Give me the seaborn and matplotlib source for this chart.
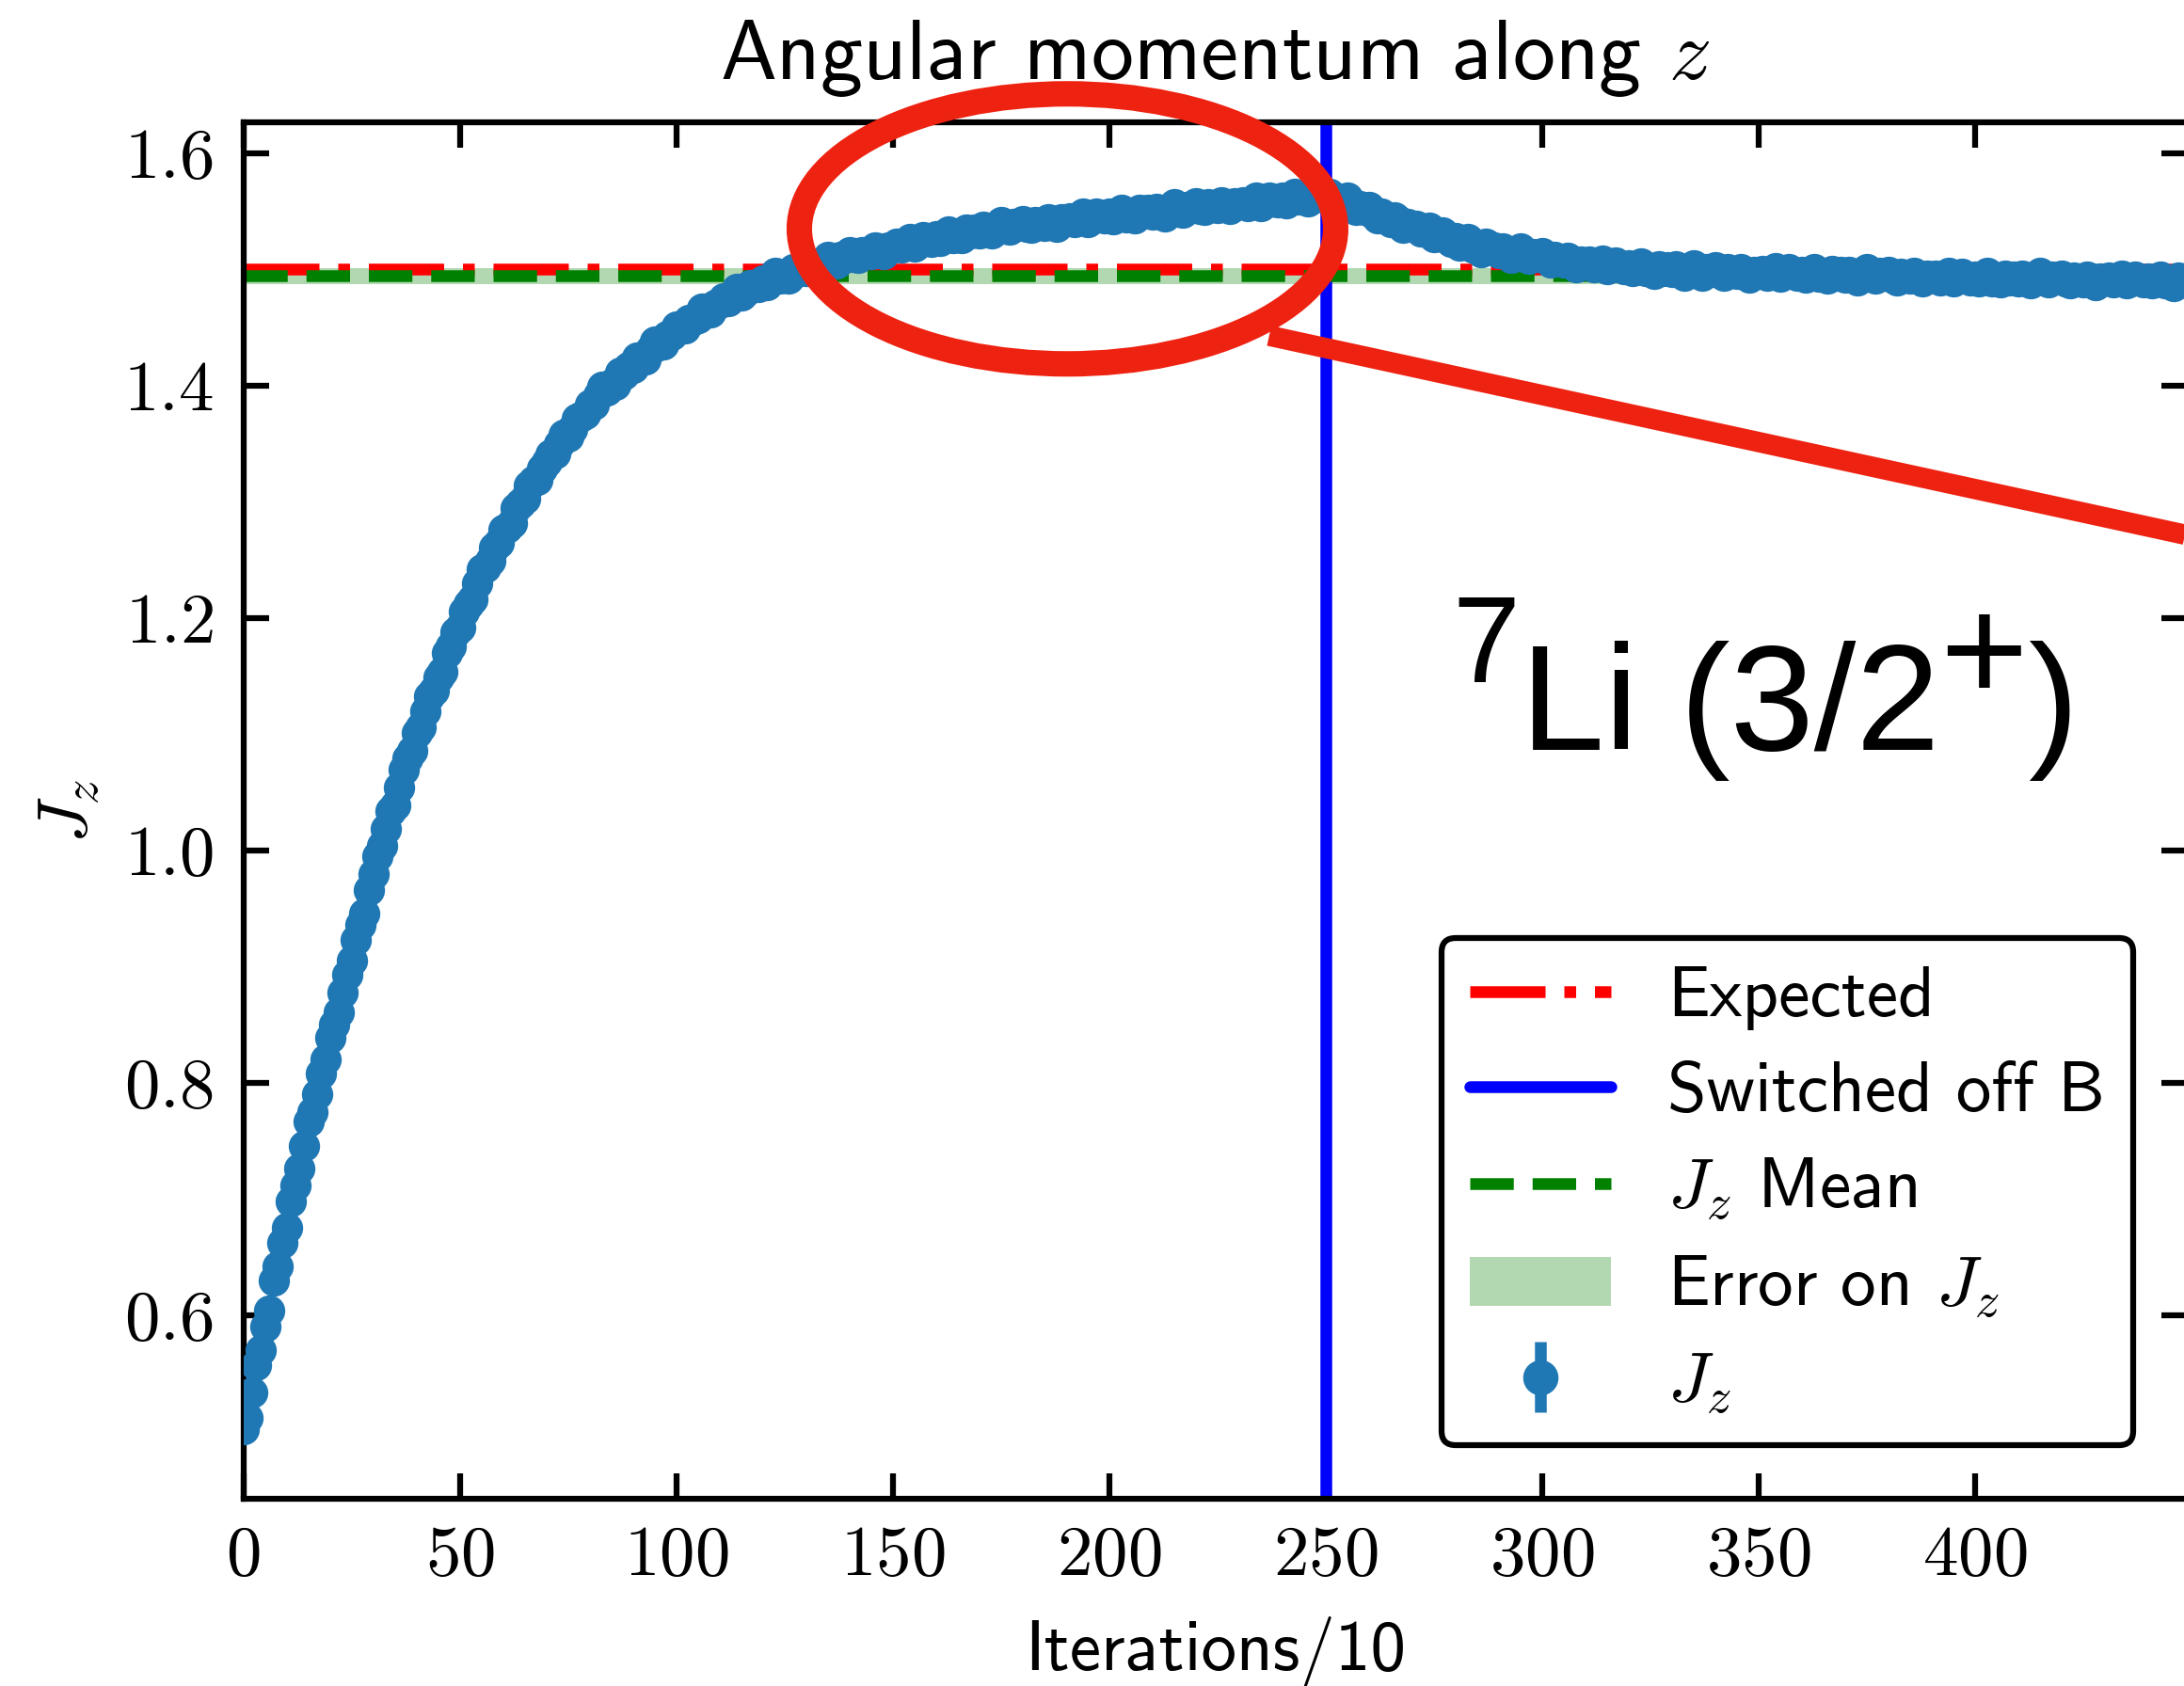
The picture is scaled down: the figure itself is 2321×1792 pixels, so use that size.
import numpy as np
import matplotlib
matplotlib.use("Agg")
import matplotlib.pyplot as plt
import seaborn as sns
from matplotlib.patches import Ellipse
from matplotlib.lines import Line2D
from matplotlib.ticker import FixedLocator, FixedFormatter
from matplotlib.transforms import offset_copy

# J_z estimate recorded every 10 iterations
jz_values = [
    0.502, 0.512, 0.534, 0.557, 0.570, 0.590, 0.604, 0.630, 0.642, 0.662,
    0.675, 0.698, 0.712, 0.726, 0.746, 0.767, 0.775, 0.790, 0.808, 0.820,
    0.839, 0.850, 0.861, 0.878, 0.893, 0.905, 0.923, 0.936, 0.946, 0.966,
    0.980, 0.995, 1.004, 1.019, 1.034, 1.039, 1.054, 1.070, 1.079, 1.086,
    1.101, 1.106, 1.120, 1.133, 1.138, 1.149, 1.154, 1.170, 1.176, 1.188,
    1.192, 1.206, 1.212, 1.216, 1.230, 1.242, 1.244, 1.249, 1.261, 1.265,
    1.276, 1.278, 1.282, 1.295, 1.299, 1.303, 1.314, 1.318, 1.319, 1.329,
    1.334, 1.341, 1.342, 1.350, 1.358, 1.356, 1.363, 1.372, 1.373, 1.376,
    1.384, 1.384, 1.392, 1.399, 1.396, 1.402, 1.401, 1.411, 1.410, 1.416,
    1.415, 1.424, 1.424, 1.423, 1.431, 1.438, 1.435, 1.436, 1.443, 1.444,
    1.451, 1.449, 1.449, 1.457, 1.457, 1.458, 1.466, 1.466, 1.463, 1.470,
    1.471, 1.475, 1.473, 1.478, 1.483, 1.478, 1.481, 1.487, 1.486, 1.485,
    1.491, 1.487, 1.492, 1.497, 1.492, 1.495, 1.492, 1.500, 1.498, 1.502,
    1.499, 1.505, 1.503, 1.500, 1.506, 1.511, 1.506, 1.505, 1.511, 1.510,
    1.515, 1.511, 1.510, 1.515, 1.514, 1.513, 1.519, 1.518, 1.513, 1.519,
    1.519, 1.522, 1.519, 1.522, 1.526, 1.520, 1.523, 1.528, 1.525, 1.524,
    1.529, 1.525, 1.529, 1.533, 1.527, 1.530, 1.527, 1.534, 1.531, 1.534,
    1.531, 1.537, 1.534, 1.531, 1.536, 1.541, 1.535, 1.534, 1.539, 1.538,
    1.542, 1.537, 1.536, 1.541, 1.540, 1.538, 1.543, 1.542, 1.537, 1.543,
    1.542, 1.544, 1.541, 1.544, 1.548, 1.541, 1.543, 1.548, 1.545, 1.544,
    1.548, 1.543, 1.548, 1.551, 1.545, 1.548, 1.544, 1.551, 1.548, 1.551,
    1.547, 1.552, 1.550, 1.546, 1.552, 1.556, 1.550, 1.549, 1.554, 1.553,
    1.557, 1.552, 1.551, 1.556, 1.554, 1.553, 1.558, 1.556, 1.552, 1.557,
    1.556, 1.558, 1.555, 1.558, 1.562, 1.555, 1.557, 1.562, 1.559, 1.558,
    1.562, 1.557, 1.562, 1.565, 1.560, 1.562, 1.559, 1.566, 1.568, 1.566,
    1.561, 1.565, 1.560, 1.555, 1.559, 1.562, 1.555, 1.551, 1.555, 1.551,
    1.554, 1.548, 1.544, 1.548, 1.545, 1.541, 1.545, 1.542, 1.536, 1.539,
    1.537, 1.538, 1.533, 1.534, 1.536, 1.528, 1.529, 1.532, 1.527, 1.524,
    1.527, 1.521, 1.524, 1.526, 1.519, 1.520, 1.515, 1.522, 1.517, 1.519,
    1.514, 1.518, 1.515, 1.510, 1.515, 1.518, 1.511, 1.509, 1.513, 1.511,
    1.514, 1.509, 1.506, 1.511, 1.508, 1.506, 1.510, 1.508, 1.502, 1.507,
    1.505, 1.507, 1.502, 1.505, 1.508, 1.500, 1.502, 1.506, 1.502, 1.500,
    1.504, 1.499, 1.502, 1.505, 1.499, 1.501, 1.496, 1.503, 1.499, 1.502,
    1.498, 1.503, 1.499, 1.495, 1.500, 1.504, 1.498, 1.495, 1.500, 1.498,
    1.502, 1.497, 1.495, 1.500, 1.498, 1.496, 1.500, 1.498, 1.493, 1.498,
    1.497, 1.499, 1.495, 1.498, 1.501, 1.494, 1.496, 1.500, 1.497, 1.495,
    1.498, 1.493, 1.497, 1.500, 1.494, 1.496, 1.492, 1.499, 1.495, 1.498,
    1.493, 1.498, 1.495, 1.491, 1.496, 1.500, 1.494, 1.492, 1.497, 1.495,
    1.498, 1.493, 1.491, 1.496, 1.494, 1.492, 1.497, 1.495, 1.490, 1.495,
    1.493, 1.495, 1.491, 1.494, 1.497, 1.490, 1.492, 1.496, 1.493, 1.491,
    1.494, 1.490, 1.493, 1.497, 1.490, 1.492, 1.489, 1.495, 1.491, 1.494,
    1.490, 1.495, 1.492, 1.488, 1.493, 1.497, 1.491, 1.489, 1.494, 1.492,
    1.495, 1.490, 1.488, 1.493, 1.491, 1.489, 1.494, 1.492, 1.487, 1.492,
    1.491, 1.493, 1.489, 1.492, 1.495, 1.488, 1.490, 1.494, 1.491, 1.489,
    1.492, 1.488, 1.491, 1.494, 1.488, 1.490, 1.486, 1.493, 1.489, 1.492,
]
iterations = list(range(len(jz_values)))
jz_err = 0.012

expected_jz = 1.5
switch_off_iter = 250
jz_mean = 1.4945
jz_mean_err = 0.0069

x_ticks = [0, 50, 100, 150, 200, 250, 300, 350, 400]
x_tick_labels = ["0", "50", "100", "150", "200", "250", "300", "350", "400"]
y_ticks = [0.6, 0.8, 1.0, 1.2, 1.4, 1.6]
y_tick_labels = ["0.6", "0.8", "1.0", "1.2", "1.4", "1.6"]

# nucleus label pieces: (text, font size in pt, raise above baseline in px)
nucleus_pieces = [("7", 31, 72), ("Li (3/2", 38.5, 0), ("+", 38.5, 52), (")", 38.5, 0)]

sns.set_theme(style="ticks")
plt.rcParams.update({
    "font.family": "cmss10",
    "mathtext.fontset": "cm",
    "axes.unicode_minus": False,
    "text.color": "black",
    "axes.labelcolor": "black",
    "font.size": 18,
    "axes.titlesize": 21.6,
    "axes.titlepad": 11,
    "axes.labelsize": 18,
    "xtick.labelsize": 18,
    "ytick.labelsize": 18,
    "legend.fontsize": 18,
    "axes.linewidth": 1.5,
    "axes.edgecolor": "black",
    "xtick.direction": "in",
    "ytick.direction": "in",
    "xtick.top": True,
    "ytick.right": True,
    "xtick.major.size": 6.5,
    "ytick.major.size": 6.5,
    "xtick.major.width": 1.5,
    "ytick.major.width": 1.5,
    "xtick.major.pad": 6.7,
    "ytick.major.pad": 7.6,
    "xtick.color": "black",
    "ytick.color": "black",
})

DPI = 300
W, H = 2321, 1792
fig = plt.figure(figsize=(W / DPI, H / DPI), dpi=DPI)
ax_left, ax_right, ax_top, ax_bottom = 258.6, 2324.0, 130.0, 1593.0
ax = fig.add_axes([ax_left / W, 1 - ax_bottom / H,
                   (ax_right - ax_left) / W, (ax_bottom - ax_top) / H])

band = ax.axhspan(jz_mean - jz_mean_err, jz_mean + jz_mean_err,
                  color="green", alpha=0.3, lw=0, zorder=1,
                  label="Error on $J_z$")
exp_line = ax.axhline(expected_jz, color="red", ls="-.", lw=3, zorder=2,
                      label="Expected")
b_line = ax.axvline(switch_off_iter, color="blue", lw=3, zorder=2,
                    label="Switched off B")
mean_line = ax.axhline(jz_mean, color="green", ls="--", lw=3, zorder=2.1,
                       label="$J_z$ Mean")

ax.errorbar(iterations, jz_values, yerr=jz_err, fmt="none",
            ecolor="#1f77b4", elinewidth=3, capsize=0, zorder=3)
sns.scatterplot(x=iterations, y=jz_values, ax=ax, s=64, color="#1f77b4",
                linewidth=0, zorder=4, legend=False)
jz_handle = ax.errorbar([np.nan], [np.nan], yerr=[np.nan], fmt="o",
                        color="#1f77b4", ms=8, elinewidth=3, label="$J_z$")

ax.set_xlim(0, 449)
ax.set_ylim(0.4421, 1.6267)
ax.xaxis.set_major_locator(FixedLocator(x_ticks))
ax.xaxis.set_major_formatter(FixedFormatter([f"${t}$" for t in x_tick_labels]))
ax.yaxis.set_major_locator(FixedLocator(y_ticks))
ax.yaxis.set_major_formatter(FixedFormatter([f"${t}$" for t in y_tick_labels]))
ax.minorticks_off()

ax.set_title("Angular momentum along $z$")
ax.set_xlabel("Iterations/10", labelpad=7.0)
ax.set_ylabel("$J_z$", labelpad=5.3)

# nucleus label, written piece by piece so the superscripts keep their size
renderer = fig.canvas.get_renderer()
dx = 0.0
for piece, size, rise in nucleus_pieces:
    tr = offset_copy(ax.transData, fig=fig, x=dx, y=rise, units="dots")
    t = ax.text(279.4, 1.087, piece, fontsize=size, family="Liberation Sans",
                color="black", ha="left", va="baseline", transform=tr,
                zorder=6)
    dx += t.get_window_extent(renderer).width

leg = ax.legend(handles=[exp_line, b_line, mean_line, band, jz_handle],
                loc="lower right", borderaxespad=0.76, labelspacing=0.44,
                frameon=True, fancybox=True, edgecolor="black", framealpha=1)
leg.get_frame().set_linewidth(1.5)
leg.set_zorder(7)

# highlight of the plateau region with a pointer line
callout = "#ee2211"
ax.add_patch(Ellipse((190.4, 1.535), 123.9, 0.2324, fill=False,
                     ec=callout, lw=6.5, clip_on=False, zorder=10))
ax.add_line(Line2D([237.0, 470.0], [1.443, 1.2545], color=callout, lw=5.2,
                   solid_capstyle="butt", clip_on=False, zorder=10))

fig.savefig("out.png", dpi=DPI)
